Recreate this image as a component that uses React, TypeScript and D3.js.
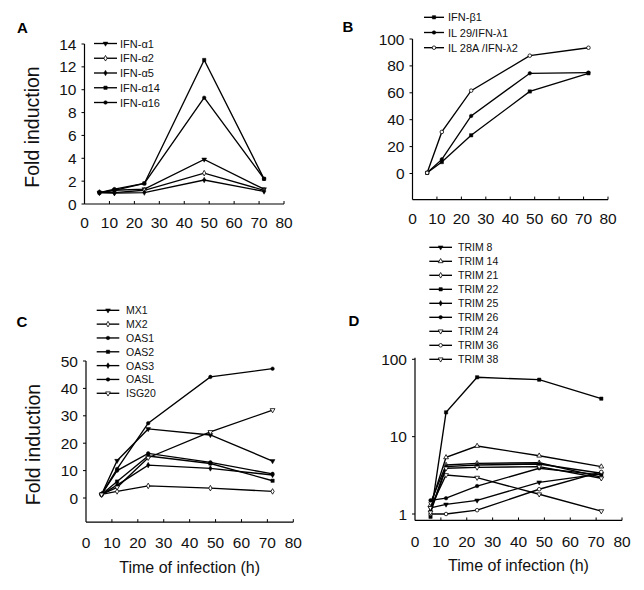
import React from 'react';
import * as d3 from 'd3';

// ---------- data ----------
const hours = [6, 12, 24, 48, 72];
const xTickValues = [0, 10, 20, 30, 40, 50, 60, 70, 80];

// Panel A
const namesA = ['IFN-α1', 'IFN-α2', 'IFN-α5', 'IFN-α14', 'IFN-α16'];
const markersA = ['tri-down', 'diamond-open', 'diamond', 'square', 'circle'];
const ifnA1 = [1.0, 1.2, 1.3, 3.9, 1.3];
const ifnA2 = [1.0, 1.0, 1.2, 2.7, 1.2];
const ifnA5 = [1.0, 0.95, 1.0, 2.1, 1.1];
const ifnA14 = [1.0, 1.2, 1.8, 12.6, 2.2];
const ifnA16 = [1.0, 1.3, 1.8, 9.3, 2.2];
const ticksA = [0, 2, 4, 6, 8, 10, 12, 14];

// Panel B
const namesB = ['IFN-β1', 'IL 29/IFN-λ1', 'IL 28A /IFN-λ2'];
const markersB = ['square', 'circle', 'circle-open'];
const ifnB1 = [0.5, 8.5, 28.4, 61.0, 74.5];
const il29 = [0.5, 10.5, 42.8, 74.5, 75.0];
const il28a = [0.5, 30.9, 61.6, 87.6, 93.5];
const ticksB = [0, 20, 40, 60, 80, 100];

// Panel C
const namesC = ['MX1', 'MX2', 'OAS1', 'OAS2', 'OAS3', 'OASL', 'ISG20'];
const markersC = ['tri-down', 'diamond-open', 'circle', 'square', 'diamond', 'circle', 'tri-down-open'];
const mx1 = [1.3, 13.6, 25.2, 23.0, 13.5];
const mx2 = [1.3, 2.4, 4.4, 3.6, 2.4];
const oas1 = [1.3, 10.0, 16.3, 13.0, 8.8];
const oas2 = [1.3, 6.0, 15.3, 12.6, 6.3];
const oas3 = [1.3, 4.7, 12.0, 10.8, 8.4];
const oasl = [1.3, 10.6, 27.3, 44.2, 47.2];
const isg20 = [1.3, 3.9, 14.7, 24.1, 32.1];
const ticksC = [0, 10, 20, 30, 40, 50];

// Panel D
const namesD = ['TRIM 8', 'TRIM 14', 'TRIM 21', 'TRIM 22', 'TRIM 25', 'TRIM 26', 'TRIM 24', 'TRIM 36', 'TRIM 38'];
const markersD = ['tri-down', 'tri-up-open', 'diamond-open', 'square', 'diamond', 'circle', 'tri-down-open', 'circle-open', 'tri-down-open'];
const trim8 = [1.2, 1.33, 1.5, 2.57, 3.3];
const trim14 = [1.3, 5.4, 7.57, 5.67, 4.1];
const trim21 = [1.4, 4.3, 4.52, 4.6, 3.0];
const trim22 = [0.92, 20.6, 58.5, 54.5, 31.0];
const trim25 = [1.1, 4.1, 4.3, 4.43, 3.36];
const trim26 = [1.5, 1.6, 2.3, 3.9, 3.2];
const trim24 = [1.2, 3.19, 2.95, 1.8, 1.09];
const trim36 = [1.0, 1.0, 1.12, 2.09, 3.5];
const trim38 = [1.05, 3.9, 4.0, 4.1, 2.9];
const ticksD = [1, 10, 100];

const FONT = "'Liberation Sans', Arial, Helvetica, sans-serif";

function Marker({ kind, cx, cy }: { kind: string; cx: number; cy: number }) {
  const open = kind.endsWith('-open');
  const base = kind.replace('-open', '');
  let type: d3.SymbolType = d3.symbolCircle;
  let size = 10;
  let rot = 0;
  if (base === 'tri-down') { type = d3.symbolTriangle; rot = 180; size = 10; }
  if (base === 'tri-up') { type = d3.symbolTriangle; size = 10; }
  if (base === 'diamond') { type = d3.symbolDiamond; size = 9; }
  if (base === 'square') { type = d3.symbolSquare; size = 11; }
  if (base === 'circle') { type = d3.symbolCircle; size = 10; }
  const d = d3.symbol().type(type).size(size)() as string;
  return (
    <path
      d={d}
      transform={`translate(${cx},${cy}) rotate(${rot})`}
      fill={open ? '#fff' : '#000'}
      stroke="#000"
      strokeWidth={open ? 0.8 : 0.5}
    />
  );
}

type PanelProps = {
  letter: string;
  letterX: number;
  letterY: number;
  x: d3.ScaleLinear<number, number>;
  y: any;
  yAxisBottom: number;
  yAxisTop: number;
  yTicks: number[];
  series: number[][];
  markers: string[];
  names: string[];
  legendX1: number;
  legendX2: number;
  legendTextX: number;
  legendY0: number;
  legendStep: number;
  legendFont: number;
  xLabelDy: number;
  yLabel?: string;
  yLabelX?: number;
  xLabel?: string;
};

function Panel(p: PanelProps) {
  const line = d3
    .line<number>()
    .x((_, i) => p.x(hours[i]))
    .y((d) => p.y(d));
  const [x0, x1] = p.x.range();
  return (
    <g>
      <text x={p.letterX} y={p.letterY} fontSize={15} fontWeight="bold" fontFamily={FONT}>
        {p.letter}
      </text>
      {/* axes */}
      <line x1={x0} x2={x0} y1={p.yAxisBottom} y2={p.yAxisTop} stroke="#000" strokeWidth={1.2} />
      <line x1={x0} x2={x1} y1={p.yAxisBottom} y2={p.yAxisBottom} stroke="#000" strokeWidth={1.2} />
      {xTickValues.map((t) => (
        <g key={'xt' + t}>
          {t > 0 && (
            <line x1={p.x(t)} x2={p.x(t)} y1={p.yAxisBottom} y2={p.yAxisBottom - 3} stroke="#000" strokeWidth={1} />
          )}
          <text
            x={p.x(t)}
            y={p.yAxisBottom + p.xLabelDy}
            textAnchor="middle"
            dominantBaseline="central"
            fontSize={15.5}
            fontFamily={FONT}
            fill="#111"
          >
            {t}
          </text>
        </g>
      ))}
      {p.yTicks.map((t) => (
        <g key={'yt' + t}>
          <line x1={x0} x2={x0 - 3} y1={p.y(t)} y2={p.y(t)} stroke="#000" strokeWidth={1} />
          <text
            x={x0 - 8}
            y={p.y(t)}
            textAnchor="end"
            dominantBaseline="central"
            fontSize={15.5}
            fontFamily={FONT}
            fill="#111"
          >
            {t}
          </text>
        </g>
      ))}
      {p.yLabel && (
        <text
          transform={`translate(${p.yLabelX},${(p.yAxisBottom + p.yAxisTop) / 2 + 3}) rotate(-90)`}
          textAnchor="middle"
          dominantBaseline="central"
          fontSize={19.5}
          fontFamily={FONT}
          fill="#111"
        >
          {p.yLabel}
        </text>
      )}
      {p.xLabel && (
        <text
          x={(x0 + x1) / 2}
          y={p.yAxisBottom + 45}
          textAnchor="middle"
          dominantBaseline="central"
          fontSize={16}
          fontFamily={FONT}
          fill="#111"
        >
          {p.xLabel}
        </text>
      )}
      {/* series */}
      {p.series.map((s, si) => (
        <g key={'s' + si}>
          <path d={line(s) as string} fill="none" stroke="#000" strokeWidth={1.35} />
          {s.map((v, i) => (
            <Marker key={i} kind={p.markers[si]} cx={p.x(hours[i])} cy={p.y(v)} />
          ))}
        </g>
      ))}
      {/* legend */}
      {p.names.map((n, i) => {
        const ly = p.legendY0 + i * p.legendStep;
        return (
          <g key={'l' + i}>
            <line x1={p.legendX1} x2={p.legendX2} y1={ly} y2={ly} stroke="#000" strokeWidth={1.35} />
            <Marker kind={p.markers[i]} cx={(p.legendX1 + p.legendX2) / 2} cy={ly} />
            <text x={p.legendTextX} y={ly} dominantBaseline="central" fontSize={p.legendFont} fontFamily={FONT} fill="#111">
              {n}
            </text>
          </g>
        );
      })}
    </g>
  );
}

export default function App() {
  const xA = d3.scaleLinear().domain([0, 80]).range([84.5, 284]);
  const yA = d3.scaleLinear().domain([0, 14]).range([204, 44]);

  const xB = d3.scaleLinear().domain([0, 80]).range([412.5, 608]);
  const yB = d3.scaleLinear().domain([0, 100]).range([173.5, 39]);

  const xC = d3.scaleLinear().domain([0, 80]).range([86, 293.3]);
  const yC = d3.scaleLinear().domain([0, 50]).range([498, 361]);

  const xD = d3.scaleLinear().domain([0, 80]).range([415, 622]);
  const yD = d3.scaleLog().domain([1, 100]).range([514, 359.3]);

  return (
    <svg
      width={644}
      height={590}
      style={{ position: 'absolute', left: 0, top: 0, background: '#fff' }}
    >
      <rect width={644} height={590} fill="#fff" />
      <Panel
        letter="A" letterX={17} letterY={33}
        x={xA} y={yA} yAxisBottom={yA(0)} yAxisTop={yA(14)} yTicks={ticksA}
        series={[ifnA1, ifnA2, ifnA5, ifnA14, ifnA16]} markers={markersA} names={namesA}
        legendX1={94} legendX2={117} legendTextX={120} legendY0={43.5} legendStep={14.75} legendFont={11}
        xLabelDy={18} yLabel="Fold induction" yLabelX={32}
      />
      <Panel
        letter="B" letterX={342.5} letterY={31.7}
        x={xB} y={yB} yAxisBottom={yB(-19.4)} yAxisTop={yB(100)} yTicks={ticksB}
        series={[ifnB1, il29, il28a]} markers={markersB} names={namesB}
        legendX1={424} legendX2={444} legendTextX={448} legendY0={17.3} legendStep={15.2} legendFont={11}
        xLabelDy={19}
      />
      <Panel
        letter="C" letterX={16.5} letterY={327.3}
        x={xC} y={yC} yAxisBottom={yC(-8.8)} yAxisTop={yC(50)} yTicks={ticksC}
        series={[mx1, mx2, oas1, oas2, oas3, oasl, isg20]} markers={markersC} names={namesC}
        legendX1={96.7} legendX2={119.3} legendTextX={126} legendY0={310.3} legendStep={13.83} legendFont={10.5}
        xLabelDy={20.5} yLabel="Fold induction" yLabelX={32.5} xLabel="Time of infection (h)"
      />
      <Panel
        letter="D" letterX={348.5} letterY={325.7}
        x={xD} y={yD} yAxisBottom={yD(0.825)} yAxisTop={yD(105)} yTicks={ticksD}
        series={[trim8, trim14, trim21, trim22, trim25, trim26, trim24, trim36, trim38]} markers={markersD} names={namesD}
        legendX1={429.3} legendX2={452} legendTextX={458} legendY0={247.3} legendStep={14} legendFont={10.5}
        xLabelDy={21} xLabel="Time of infection (h)"
      />
    </svg>
  );
}
